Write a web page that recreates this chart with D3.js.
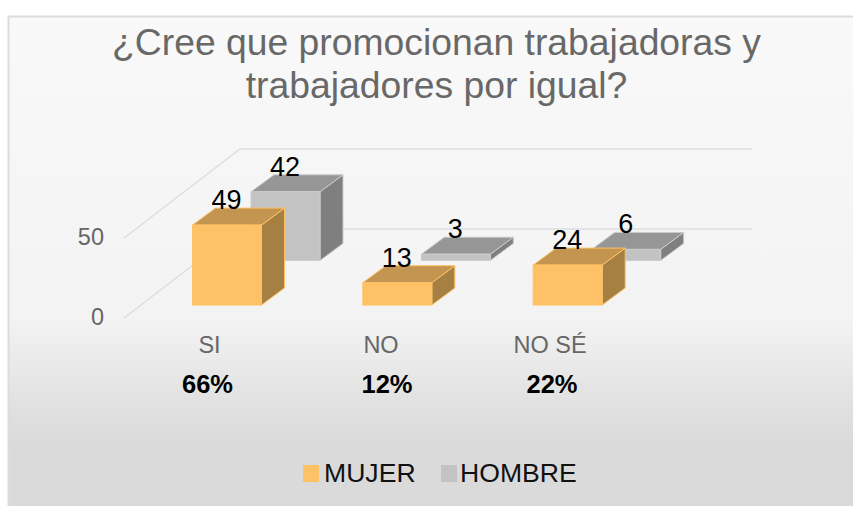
<!DOCTYPE html>
<html><head><meta charset="utf-8">
<script src="https://cdn.jsdelivr.net/npm/d3@7"></script>
<style>html,body{margin:0;padding:0;background:#fff}svg{display:block}text{font-family:"Liberation Sans",Arial,sans-serif}</style>
</head><body><svg id="c" width="853" height="506"></svg>
<script>
const titleLines = ["¿Cree que promocionan trabajadoras y","trabajadores por igual?"];
const categories = ["SI","NO","NO SÉ"];
const percents = ["66%","12%","22%"];
const mujer = [49,13,24];
const hombre = [42,3,6];
const seriesNames = ["MUJER","HOMBRE"];
const ticks = [0,50];

const svg = d3.select("#c");
const W=853,H=506;
const defs = svg.append("defs");
const g = defs.append("linearGradient").attr("id","bg").attr("x1",0).attr("x2",0).attr("y1",0).attr("y2",1);
[[0,"#f9f9f9"],[0.62,"#f3f3f3"],[0.78,"#e2e2e2"],[0.87,"#dadada"],[1,"#dadada"]].forEach(d=>g.append("stop").attr("offset",d[0]).attr("stop-color",d[1]));
svg.append("rect").attr("x",8).attr("y",16).attr("width",W-8).attr("height",H-16).attr("fill","url(#bg)");
svg.append("path").attr("d",`M8.5,${H}V16.5H${W}`).attr("fill","none").attr("stroke","#dcdcdc").attr("stroke-width",2);

svg.selectAll(".t").data(titleLines).join("text").attr("text-anchor","middle").attr("x",436.5).attr("y",(d,i)=>55+i*43)
  .attr("font-size",37.3).attr("fill","#686868").text(d=>d);

const dx=23, dy=-17;
const y = d3.scaleLinear().domain([0,50]).range([318,238]);
const barH = d3.scaleLinear().domain([0,50]).range([1.5,81.5]);
const x = d3.scaleBand().domain(categories).range([136,647]).paddingInner(0).paddingOuter(0);
const depthX = 116, depthY=-89;
const grid = svg.append("g");
ticks.forEach(t=>{
  const p = `M124,${y(t)}L${124+depthX},${y(t)+depthY}L752,${y(t)+depthY}`;
  grid.append("path").attr("d",p).attr("fill","none").attr("stroke","#dedede").attr("stroke-width",1.5);
});
svg.selectAll(".tick").data(ticks).join("text").attr("x",104).attr("text-anchor","end").attr("y",d=>y(d)+7)
  .attr("font-size",23.5).attr("fill","#666").text(d=>d);

function bar(px,base,v,cols,w){
  const h=barH(v), G=svg.append("g");
  const top=base-h;
  G.append("path").attr("d",`M${px+w},${base}L${px+w+dx},${base+dy}L${px+w+dx},${top+dy}L${px+w},${top}Z`).attr("fill",cols.side).attr("stroke",cols.edge);
  G.append("path").attr("d",`M${px},${top}L${px+dx},${top+dy}L${px+w+dx},${top+dy}L${px+w},${top}Z`).attr("fill",cols.top).attr("stroke",cols.edge);
  G.append("rect").attr("x",px).attr("y",top).attr("width",w).attr("height",h).attr("fill",cols.front).attr("stroke",cols.edge);
}
const oc={front:"#ffc165",side:"#a67f42",top:"#c49550",edge:"#ffc165"};
const gc={front:"#c3c3c3",side:"#7f7f7f",top:"#969696",edge:"#cbcbcb"};
const bw=69;
const backX = i=>x(categories[i])+115, frontX=i=>x(categories[i])+56.5;
hombre.forEach((v,i)=>bar(backX(i),260.5,v,gc,bw));
mujer.forEach((v,i)=>bar(frontX(i),305,v,oc,bw));
const lab=(tx,ty,t)=>svg.append("text").attr("x",tx).attr("y",ty).attr("text-anchor","middle").attr("font-size",27).attr("fill","#000").text(t);
hombre.forEach((v,i)=>lab(backX(i)+34,260.5-barH(v)+dy+1,v));
mujer.forEach((v,i)=>lab(frontX(i)+34,305-barH(v)+dy+1,v));

const labelX=[209.5,381,550], pctX=[207.5,387,552];
svg.selectAll(".cat").data(categories).join("text").attr("x",(d,i)=>labelX[i]).attr("y",353).attr("text-anchor","middle")
  .attr("font-size",23.5).attr("fill","#666").text(d=>d);
svg.selectAll(".pct").data(percents).join("text").attr("x",(d,i)=>pctX[i]).attr("y",393).attr("text-anchor","middle")
  .attr("font-size",25.5).attr("font-weight","bold").attr("fill","#000").text(d=>d);

const legX=[303,441],legTextX=[324,460],legC=["#ffc165","#c3c3c3"];
seriesNames.forEach((s,i)=>{
  svg.append("rect").attr("x",legX[i]).attr("y",465).attr("width",16).attr("height",17).attr("fill",legC[i]);
  svg.append("text").attr("x",legTextX[i]).attr("y",482).attr("font-size",26.6).attr("fill","#111").text(s);
});
</script></body></html>
